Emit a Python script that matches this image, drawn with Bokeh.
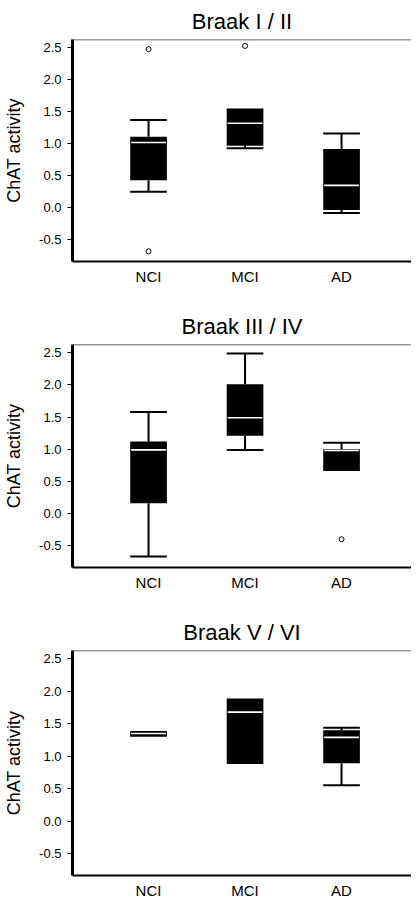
from bokeh.plotting import figure
from bokeh.layouts import column
from bokeh.models import LinearAxis, FixedTicker, Range1d, Span
from bokeh.embed import file_html
from bokeh.resources import INLINE

# ---------------- data ----------------
categories = ["NCI", "MCI", "AD"]
panel_titles = ["Braak I / II", "Braak III / IV", "Braak V / VI"]
y_label = "ChAT activity"
y_ticks = [-0.5, 0.0, 0.5, 1.0, 1.5, 2.0, 2.5]
y_tick_labels = ["-0.5", "0.0", "0.5", "1.0", "1.5", "2.0", "2.5"]

braak12_lower = [0.25, 0.93, -0.08]
braak12_q1 = [0.43, 0.97, -0.035]
braak12_median = [1.02, 1.32, 0.35]
braak12_q3 = [1.11, 1.55, 0.92]
braak12_upper = [1.37, 1.55, 1.16]
braak12_outlier_cat = ["NCI", "NCI", "MCI"]
braak12_outlier_val = [2.48, -0.68, 2.53]

braak34_lower = [-0.67, 0.99, 0.66]
braak34_q1 = [0.16, 1.21, 0.66]
braak34_median = [0.99, 1.49, 0.98]
braak34_q3 = [1.12, 2.01, 1.00]
braak34_upper = [1.58, 2.49, 1.10]
braak34_outlier_cat = ["AD"]
braak34_outlier_val = [-0.40]

braak56_lower = [1.30, 0.88, 0.55]
braak56_q1 = [1.30, 0.88, 0.89]
braak56_median = [1.35, 1.68, 1.29]
braak56_q3 = [1.39, 1.89, 1.40]
braak56_upper = [1.39, 1.89, 1.44]
braak56_outlier_cat = []
braak56_outlier_val = []

FONT = "Liberation Sans"
BOX_W = 0.38
Y_MIN, Y_MAX = -0.84, 2.63


def make_panel(title, lower, q1, med, q3, upper, out_cat, out_val,
               height, border_top, border_bottom):
    xs = [i + 1 for i in range(len(categories))]
    p = figure(width=411, height=height, output_backend="svg",
               toolbar_location=None, title=title, tools="",
               x_range=Range1d(0.212, 3.725), y_range=Range1d(Y_MIN, Y_MAX),
               min_border_left=72, min_border_right=0,
               min_border_top=border_top, min_border_bottom=border_bottom,
               x_axis_location=None, y_axis_location=None)
    p.outline_line_color = None
    p.grid.visible = False
    p.background_fill_color = "white"
    p.border_fill_color = "white"

    p.title.text_font = FONT
    p.title.text_font_size = "22px"
    p.title.text_font_style = "normal"
    p.title.align = "center"
    p.title.text_color = "black"
    p.title.standoff = 12

    # left axis
    ya = LinearAxis(ticker=FixedTicker(ticks=y_ticks, minor_ticks=[]))
    ya.major_label_overrides = {t: l for t, l in zip(y_ticks, y_tick_labels)}
    ya.axis_line_width = 3
    ya.axis_line_color = "black"
    ya.major_tick_out = 5
    ya.major_tick_in = 0
    ya.major_tick_line_color = "black"
    ya.minor_tick_out = 0
    ya.minor_tick_in = 0
    ya.major_label_text_font = FONT
    ya.major_label_text_font_size = "13px"
    ya.major_label_text_color = "black"
    ya.major_label_standoff = 6
    ya.axis_label = y_label
    ya.axis_label_text_font = FONT
    ya.axis_label_text_font_size = "18px"
    ya.axis_label_text_font_style = "normal"
    ya.axis_label_text_color = "black"
    ya.axis_label_standoff = 12
    p.add_layout(ya, "left")

    # bottom axis
    xa = LinearAxis(ticker=FixedTicker(ticks=xs, minor_ticks=[]))
    xa.major_label_overrides = {x: c for x, c in zip(xs, categories)}
    xa.axis_line_width = 2
    xa.axis_line_color = "black"
    xa.major_tick_out = 0
    xa.major_tick_in = 0
    xa.minor_tick_out = 0
    xa.minor_tick_in = 0
    xa.major_label_text_font = FONT
    xa.major_label_text_font_size = "15px"
    xa.major_label_text_color = "black"
    xa.major_label_standoff = 6
    p.add_layout(xa, "below")

    # top border line of the frame
    p.add_layout(Span(location=Y_MAX, dimension="width",
                      line_color="#333333", line_width=1.5))

    st_x, st_y0, st_y1 = [], [], []
    cap_x0, cap_x1, cap_y = [], [], []
    for x, lo, a, b, hi in zip(xs, lower, q1, q3, upper):
        if hi > b:
            st_x.append(x); st_y0.append(b); st_y1.append(hi)
            cap_x0.append(x - BOX_W / 2); cap_x1.append(x + BOX_W / 2); cap_y.append(hi)
        if lo < a:
            st_x.append(x); st_y0.append(a); st_y1.append(lo)
            cap_x0.append(x - BOX_W / 2); cap_x1.append(x + BOX_W / 2); cap_y.append(lo)

    p.segment(x0=st_x, y0=st_y0, x1=st_x, y1=st_y1,
              line_color="black", line_width=2)
    p.segment(x0=cap_x0, y0=cap_y, x1=cap_x1, y1=cap_y,
              line_color="black", line_width=2)
    p.vbar(x=xs, width=BOX_W, bottom=q1, top=q3,
           fill_color="black", line_color=None)
    p.segment(x0=[x - BOX_W / 2 + 0.01 for x in xs], y0=med,
              x1=[x + BOX_W / 2 - 0.01 for x in xs], y1=med,
              line_color="white", line_width=1.6)
    if out_val:
        ox = [categories.index(c) + 1 for c in out_cat]
        p.scatter(x=ox, y=out_val, marker="circle", size=5,
                  fill_color="white", line_color="black", line_width=1)
    return p


p1 = make_panel(panel_titles[0], braak12_lower, braak12_q1, braak12_median,
                braak12_q3, braak12_upper, braak12_outlier_cat, braak12_outlier_val,
                305, 37, 44)
p2 = make_panel(panel_titles[1], braak34_lower, braak34_q1, braak34_median,
                braak34_q3, braak34_upper, braak34_outlier_cat, braak34_outlier_val,
                306, 37, 44)
p3 = make_panel(panel_titles[2], braak56_lower, braak56_q1, braak56_median,
                braak56_q3, braak56_upper, braak56_outlier_cat, braak56_outlier_val,
                290, 38, 26)

layout = column(p1, p2, p3, spacing=0)
open("out.html", "w").write(file_html(layout, INLINE))
